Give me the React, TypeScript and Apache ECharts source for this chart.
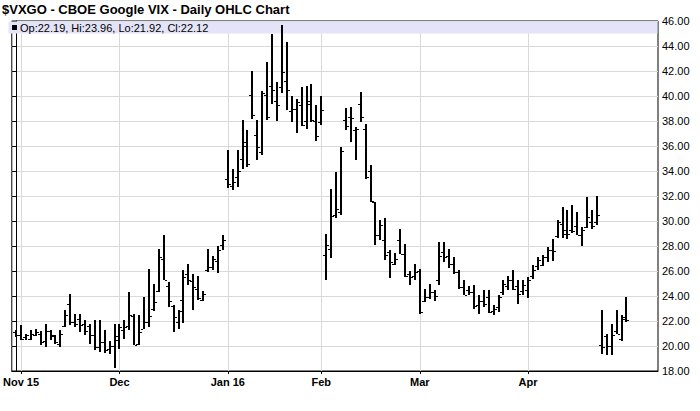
import React, { useEffect, useRef } from 'react';
import * as echarts from 'echarts';

const TITLE = '$VXGO - CBOE Google VIX - Daily OHLC Chart';
const MONTHS = ['Jan', 'Feb', 'Mar', 'Apr', 'May', 'Jun', 'Jul', 'Aug', 'Sep', 'Oct', 'Nov', 'Dec'];

const dates = [
  '2015-10-30',
  '2015-11-02', '2015-11-03', '2015-11-04', '2015-11-05', '2015-11-06', '2015-11-09', '2015-11-10', '2015-11-11', '2015-11-12', '2015-11-13',
  '2015-11-16', '2015-11-17', '2015-11-18', '2015-11-19', '2015-11-20', '2015-11-23', '2015-11-24', '2015-11-25', '2015-11-27', '2015-11-30',
  '2015-12-01', '2015-12-02', '2015-12-03', '2015-12-04', '2015-12-07', '2015-12-08', '2015-12-09', '2015-12-10', '2015-12-11', '2015-12-14',
  '2015-12-15', '2015-12-16', '2015-12-17', '2015-12-18', '2015-12-21', '2015-12-22', '2015-12-23', '2015-12-24', '2015-12-28', '2015-12-29',
  '2015-12-30', '2015-12-31',
  '2016-01-04', '2016-01-05', '2016-01-06', '2016-01-07', '2016-01-08', '2016-01-11', '2016-01-12', '2016-01-13', '2016-01-14', '2016-01-15',
  '2016-01-19', '2016-01-20', '2016-01-21', '2016-01-22', '2016-01-25', '2016-01-26', '2016-01-27', '2016-01-28', '2016-01-29',
  '2016-02-01', '2016-02-02', '2016-02-03', '2016-02-04', '2016-02-05', '2016-02-08', '2016-02-09', '2016-02-10', '2016-02-11', '2016-02-12',
  '2016-02-16', '2016-02-17', '2016-02-18', '2016-02-19', '2016-02-22', '2016-02-23', '2016-02-24', '2016-02-25', '2016-02-26', '2016-02-29',
  '2016-03-01', '2016-03-02', '2016-03-03', '2016-03-04', '2016-03-07', '2016-03-08', '2016-03-09', '2016-03-10', '2016-03-11', '2016-03-14',
  '2016-03-15', '2016-03-16', '2016-03-17', '2016-03-18', '2016-03-21', '2016-03-22', '2016-03-23', '2016-03-24', '2016-03-28', '2016-03-29',
  '2016-03-30', '2016-03-31',
  '2016-04-01', '2016-04-04', '2016-04-05', '2016-04-06', '2016-04-07', '2016-04-08', '2016-04-11', '2016-04-12', '2016-04-13', '2016-04-14',
  '2016-04-15', '2016-04-18', '2016-04-19', '2016-04-20', '2016-04-21', '2016-04-22', '2016-04-25', '2016-04-26', '2016-04-27', '2016-04-28',
  '2016-04-29',
];

const openPrices = [
  21.1,
  20.9, 20.7, 20.6, 20.9, 21.0, 20.4, 21.2, 20.8, 20.2, 21.6, 23.4, 21.9, 22.2, 21.8, 21.6, 20.9, 19.9, 20.3, 19.8, 20.0,
  20.5, 21.3, 21.6, 22.4, 20.2, 21.4, 21.9, 23.0, 24.4, 27.0, 24.8, 23.2, 21.9, 23.7, 25.8, 25.2, 24.6, 23.7, 26.1, 26.3, 26.8, 28.1,
  33.4, 32.8, 33.5, 35.0, 36.3, 40.1, 36.9, 35.5, 40.1, 40.8, 39.6, 40.7, 41.2, 38.8, 39.0, 39.3, 38.0, 39.6, 38.0,
  37.9, 27.3, 27.8, 30.5, 30.7, 38.1, 38.3, 37.3, 39.4, 37.4, 34.0, 31.5, 28.9, 28.5, 27.5, 26.6, 28.5, 27.4, 25.8, 25.6,
  26.0, 23.6, 23.9, 24.3, 25.3, 27.5, 27.2, 26.6, 25.9, 24.7, 24.5, 24.3, 23.3, 23.6, 23.9, 22.8, 23.1, 24.3, 24.8, 25.3, 24.8, 24.4,
  24.5, 25.6, 26.4, 26.5, 27.1, 27.7, 28.8, 29.8, 29.3, 29.3, 29.6, 28.9, 29.5, 29.9, 29.9, 20.1, 20.8, 20.0, 21.2, 20.6, 22.19,
];

const highPrices = [
  21.26,
  21.66, 20.99, 21.26, 21.4, 21.2, 21.77, 21.3, 20.86, 21.3, 22.86, 24.19, 22.6, 22.55, 22.06, 21.8, 22.06, 22.06, 21.26, 20.43, 21.79,
  21.79, 22.06, 24.3, 22.55, 22.5, 23.9, 26.14, 24.99, 27.74, 28.86, 25.12, 23.3, 22.91, 26.06, 26.59, 25.74, 25.58, 24.4, 27.79, 27.18, 27.98, 28.91,
  35.71, 34.19, 35.66, 38.11, 37.31, 42.0, 38.06, 40.38, 42.72, 44.94, 41.13, 45.66, 44.32, 39.98, 39.79, 40.72, 40.78, 40.99, 39.26,
  40.0, 28.99, 32.59, 33.92, 35.92, 39.04, 39.12, 37.52, 40.32, 37.79, 34.46, 31.52, 30.06, 30.27, 27.66, 27.44, 29.39, 28.14, 25.98, 26.54,
  26.19, 24.59, 24.94, 24.46, 28.32, 28.32, 27.74, 27.12, 26.11, 25.26, 24.78, 24.86, 24.06, 24.46, 24.51, 23.26, 24.06, 25.26, 25.58, 26.06, 25.26, 25.31,
  25.52, 26.46, 27.12, 27.26, 27.92, 28.59, 30.06, 31.12, 30.91, 31.26, 30.72, 29.52, 31.92, 30.86, 31.98, 22.86, 20.94, 21.74, 22.86, 22.46, 23.96,
];

const lowPrices = [
  20.72,
  20.51, 20.51, 20.51, 20.8, 20.1, 19.92, 20.46, 20.14, 19.92, 21.5, 21.68, 21.55, 21.1, 20.85, 20.2, 19.7, 19.52, 19.44, 19.36, 18.27,
  19.75, 20.59, 21.26, 20.06, 20.06, 21.39, 21.52, 22.81, 24.32, 25.26, 23.12, 21.12, 21.39, 21.84, 24.86, 22.91, 23.71, 23.6, 25.92, 26.11, 25.84, 27.66,
  32.67, 32.46, 32.72, 34.19, 34.32, 38.14, 34.91, 35.26, 38.11, 39.39, 37.98, 40.24, 38.91, 37.95, 37.04, 37.58, 37.39, 37.92, 36.41,
  37.71, 25.31, 27.04, 30.27, 30.46, 37.26, 36.32, 34.91, 37.92, 33.39, 31.52, 28.06, 28.46, 26.86, 25.47, 26.51, 27.34, 25.52, 24.86, 25.31,
  22.59, 23.52, 23.79, 23.6, 24.86, 26.72, 26.27, 25.79, 24.59, 24.06, 24.06, 22.99, 22.59, 23.12, 22.64, 22.46, 22.72, 24.06, 24.46, 24.46, 23.39, 24.06,
  23.87, 25.39, 26.11, 26.38, 26.72, 26.8, 28.67, 28.67, 28.59, 29.04, 28.86, 27.98, 29.47, 29.39, 29.66, 19.39, 19.26, 19.26, 20.94, 20.41, 21.92,
];

const closePrices = [
  20.86,
  20.6, 20.9, 21.0, 21.1, 20.3, 21.2, 20.9, 20.3, 21.0, 22.5, 21.9, 21.8, 21.7, 21.2, 20.9, 19.9, 20.3, 19.7, 20.0, 20.8,
  21.5, 21.5, 22.5, 20.1, 21.1, 21.9, 22.4, 23.5, 27.1, 25.3, 23.6, 22.3, 22.8, 25.5, 25.3, 24.7, 23.85, 24.2, 26.3, 27.0, 27.7, 28.5,
  33.0, 33.1, 34.0, 36.0, 34.6, 38.5, 35.9, 40.2, 38.3, 40.5, 39.3, 41.9, 40.5, 39.0, 39.5, 37.7, 39.4, 38.1, 36.8,
  38.9, 28.1, 30.4, 31.0, 35.6, 37.6, 38.2, 37.4, 38.3, 33.5, 31.6, 28.9, 29.7, 27.3, 26.7, 27.0, 27.4, 25.6, 25.5, 25.9,
  22.7, 23.9, 24.3, 24.0, 27.2, 27.1, 26.6, 25.9, 24.7, 24.1, 24.3, 23.2, 23.6, 23.4, 22.7, 23.0, 23.9, 25.0, 25.3, 24.6, 24.2, 24.9,
  25.3, 26.1, 26.9, 27.1, 27.7, 27.6, 29.9, 29.0, 29.0, 29.2, 28.9, 29.3, 30.3, 29.6, 30.5, 19.9, 20.0, 20.9, 21.0, 22.3, 22.12,
];

const yMin = 18;
const yMax = 46;
const yStep = 2;

const FONT = '"Liberation Sans", Arial, Helvetica, sans-serif';

export default function App() {
  const ref = useRef<HTMLDivElement>(null);

  useEffect(() => {
    if (!ref.current) return;
    const chart = echarts.init(ref.current, null, { renderer: 'svg' });

    const data = dates.map((d, k) => [k, openPrices[k], highPrices[k], lowPrices[k], closePrices[k]]);
    const monthStarts: number[] = [];
    dates.forEach((d, k) => {
      if (k > 0 && d.slice(5, 7) !== dates[k - 1].slice(5, 7)) monthStarts.push(k);
    });
    const labelFor = (v: number) => {
      const k = Math.round(v);
      const d = dates[k];
      if (!d) return '';
      const m = +d.slice(5, 7);
      const name = MONTHS[m - 1];
      return k === monthStarts[0] || m === 1 ? name + ' ' + d.slice(2, 4) : name;
    };
    const last = dates.length - 1;
    const lastClose = closePrices[last];
    const legendText =
      'Op:' + openPrices[last].toFixed(2) + ', Hi:' + highPrices[last].toFixed(2) +
      ', Lo:' + lowPrices[last].toFixed(2) + ', Cl:' + lastClose.toFixed(2);

    const gridLeft = 8;
    const gridRight = 42;
    const gridTop = 21;
    const gridBottom = 40;

    chart.setOption({
      animation: false,
      backgroundColor: '#fff',
      title: {
        text: TITLE,
        left: 2,
        top: 3,
        padding: 0,
        textStyle: { fontSize: 13, fontWeight: 'bold', color: '#000', fontFamily: FONT },
      },
      grid: {
        left: gridLeft,
        right: gridRight,
        top: gridTop,
        bottom: gridBottom,
        show: true,
        borderColor: '#000',
        borderWidth: 1,
      },
      graphic: [
        {
          type: 'rect',
          z: 1,
          shape: { x: gridLeft + 0.5, y: gridTop + 0.5, width: 700 - gridLeft - gridRight - 1, height: 12 },
          style: { fill: '#e4e4f8' },
        },
        {
          type: 'rect',
          z: 2,
          shape: { x: 12, y: 25, width: 5, height: 5 },
          style: { fill: '#000' },
        },
        {
          type: 'text',
          z: 2,
          x: 20,
          y: 28,
          style: {
            text: legendText,
            fontSize: 11,
            fontFamily: FONT,
            fill: '#000',
            verticalAlign: 'middle',
          },
        },
      ],
      xAxis: {
        type: 'value',
        min: -0.88,
        max: 130.4,
        axisLine: { show: true, onZero: false, lineStyle: { color: '#000' } },
        axisTick: { show: true, customValues: monthStarts, length: 3, lineStyle: { color: '#000' } },
        axisLabel: {
          customValues: monthStarts,
          formatter: labelFor,
          fontSize: 11,
          fontWeight: 'bold',
          color: '#000',
          fontFamily: FONT,
          margin: 5,
        },
        splitLine: { show: true, lineStyle: { color: '#d9d9d9', width: 1 } },
      },
      yAxis: {
        type: 'value',
        position: 'right',
        min: yMin,
        max: yMax,
        interval: yStep,
        axisLine: { show: true, lineStyle: { color: '#000' } },
        axisTick: { show: true, inside: true, length: 4, lineStyle: { color: '#000' } },
        axisLabel: {
          margin: 4,
          formatter: (v: number) => v.toFixed(2),
          fontSize: 11,
          color: '#000',
          fontFamily: FONT,
        },
        splitLine: { show: true, lineStyle: { color: '#d9d9d9', width: 1 } },
      },
      series: [
        {
          type: 'custom',
          z: 5,
          clip: true,
          dimensions: ['idx', 'open', 'high', 'low', 'close'],
          encode: { x: 0, y: [1, 2, 3, 4] },
          data,
          renderItem: (params: any, api: any) => {
            const k = api.value(0);
            const o = api.coord([k, api.value(1)]);
            const h = api.coord([k, api.value(2)]);
            const l = api.coord([k, api.value(3)]);
            const c = api.coord([k, api.value(4)]);
            const x = Math.round(h[0]);
            const yh = Math.round(h[1]);
            const yl = Math.round(l[1]);
            return {
              type: 'group',
              children: [
                { type: 'rect', shape: { x: x - 1, y: yh, width: 2, height: Math.max(1, yl - yh) }, style: { fill: '#000' } },
                { type: 'rect', shape: { x: x - 3, y: Math.round(o[1]), width: 2, height: 1 }, style: { fill: '#000' } },
                { type: 'rect', shape: { x: x + 1, y: Math.round(c[1]), width: 2, height: 1 }, style: { fill: '#000' } },
              ],
            };
          },
          markLine: {
            silent: true,
            symbol: ['none', 'none'],
            lineStyle: { opacity: 0 },
            data: [{ yAxis: lastClose }],
            label: {
              show: true,
              position: 'end',
              distance: 2,
              formatter: lastClose.toFixed(2),
              backgroundColor: '#000',
              color: '#fff',
              fontSize: 11,
              fontFamily: FONT,
              padding: [1, 2, 0, 2],
            },
          },
        },
      ],
    });

    return () => chart.dispose();
  }, []);

  return (
    <div
      ref={ref}
      style={{ position: 'fixed', left: 0, top: 0, width: 700, height: 411, background: '#fff' }}
    />
  );
}
